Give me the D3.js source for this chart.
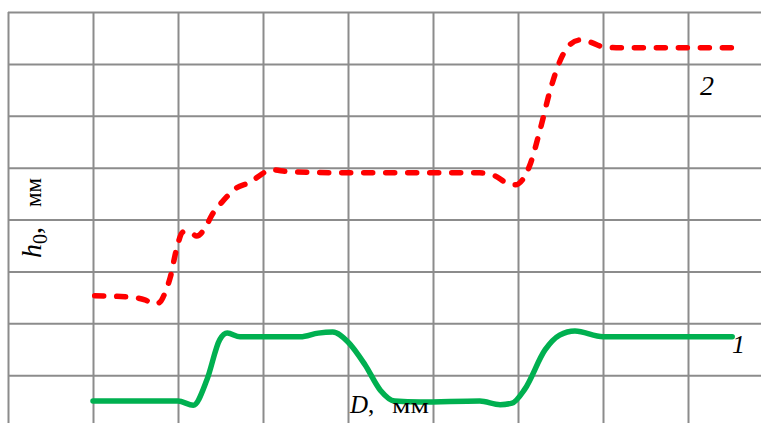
<!DOCTYPE html>
<html>
<head>
<meta charset="utf-8">
<script src="https://cdn.jsdelivr.net/npm/d3@7"></script>
<style>
  html, body { margin: 0; padding: 0; background: #fff; }
  svg { display: block; }
  text { font-family: "Liberation Serif", "DejaVu Serif", serif; fill: #000; }
</style>
</head>
<body>
<div id="chart"></div>
<script>
// grid divisions (arbitrary units, one unit per cell)
const gridX = [0, 1, 2, 3, 4, 5, 6, 7, 8, 9];
const gridY = [1, 2, 3, 4, 5, 6, 7, 8];

// curve 1 (green, solid)
const curve1X = [1.0, 2.0, 2.18, 2.34, 2.49, 2.58, 2.73, 3.44, 3.65, 3.82, 4.0, 4.2, 4.38, 4.55, 4.85, 5.55, 5.79, 5.93, 6.08, 6.32, 6.49, 6.67, 7.0, 8.52];
const curve1Y = [0.5, 0.5, 0.42, 0.91, 1.68, 1.81, 1.74, 1.74, 1.81, 1.83, 1.64, 1.2, 0.71, 0.5, 0.48, 0.5, 0.43, 0.46, 0.73, 1.49, 1.77, 1.85, 1.74, 1.74];

// curve 2 (red, dashed)
const curve2X = [1.02, 1.38, 1.61, 1.73, 1.79, 1.85, 1.91, 1.98, 2.06, 2.14, 2.22, 2.32, 2.4, 2.52, 2.69, 2.85, 2.99, 3.08, 3.32, 4.02, 5.55, 5.73, 5.85, 5.97, 6.05, 6.14, 6.26, 6.38, 6.49, 6.61, 6.73, 6.85, 7.0, 7.2, 8.52];
const curve2Y = [2.53, 2.51, 2.45, 2.37, 2.41, 2.6, 2.89, 3.41, 3.76, 3.76, 3.68, 3.84, 4.09, 4.34, 4.61, 4.72, 4.88, 4.96, 4.92, 4.9, 4.9, 4.84, 4.72, 4.67, 4.76, 5.05, 5.73, 6.5, 7.04, 7.37, 7.46, 7.42, 7.33, 7.31, 7.31];

const width = 761;
const height = 423;

const x = d3.scaleLinear().domain([0, 9]).range([8, 773]);
const y = d3.scaleLinear().domain([0, 8]).range([427, 12]);

const svg = d3.select('#chart')
  .append('svg')
  .attr('width', width)
  .attr('height', height);

// grid via axes
const gx = svg.append('g')
  .attr('transform', `translate(0,${y(8)})`)
  .call(d3.axisBottom(x).tickValues(gridX).tickSize(y(0) - y(8)).tickFormat(''));
const gy = svg.append('g')
  .attr('transform', `translate(${x(0)},0)`)
  .call(d3.axisLeft(y).tickValues(gridY).tickSize(-(x(9) - x(0))).tickFormat(''));
[gx, gy].forEach(g => {
  g.select('.domain').remove();
  g.selectAll('.tick line').attr('stroke', '#8c8c8c').attr('stroke-width', 2);
});

const line = d3.line()
  .x(d => x(d[0]))
  .y(d => y(d[1]))
  .curve(d3.curveMonotoneX);

const data1 = curve1X.map((v, i) => [v, curve1Y[i]]);
const data2 = curve2X.map((v, i) => [v, curve2Y[i]]);

svg.append('path')
  .datum(data2)
  .attr('d', line)
  .attr('fill', 'none')
  .attr('stroke', '#ff0000')
  .attr('stroke-width', 5.5)
  .attr('stroke-linecap', 'round')
  .attr('stroke-dasharray', '9 13');

svg.append('path')
  .datum(data1)
  .attr('d', line)
  .attr('fill', 'none')
  .attr('stroke', '#00b050')
  .attr('stroke-width', 5.5)
  .attr('stroke-linecap', 'round');

// curve labels
svg.append('text')
  .attr('x', 700).attr('y', 95)
  .attr('font-size', 28)
  .attr('font-style', 'italic')
  .text('2');

svg.append('text')
  .attr('x', 732).attr('y', 353)
  .attr('font-size', 26)
  .attr('font-style', 'italic')
  .text('1');

// axis titles
const xt = svg.append('text')
  .attr('x', 350).attr('y', 413)
  .attr('font-size', 25);
xt.append('tspan').attr('font-style', 'italic').text('D');
xt.append('tspan').text(',');
svg.append('text')
  .attr('x', 392).attr('y', 413)
  .attr('font-size', 21)
  .attr('textLength', 37)
  .attr('lengthAdjust', 'spacingAndGlyphs')
  .text('мм');

const yt = svg.append('text')
  .attr('transform', 'translate(41,258) rotate(-90)')
  .attr('font-size', 28);
yt.append('tspan').attr('font-style', 'italic').text('h');
yt.append('tspan').attr('font-size', 20).attr('dy', 6).text('0');
yt.append('tspan').attr('dy', -6).text(',');
svg.append('text')
  .attr('transform', 'translate(41,207) rotate(-90)')
  .attr('font-size', 23)
  .attr('textLength', 29)
  .attr('lengthAdjust', 'spacingAndGlyphs')
  .text('мм');
</script>
</body>
</html>
